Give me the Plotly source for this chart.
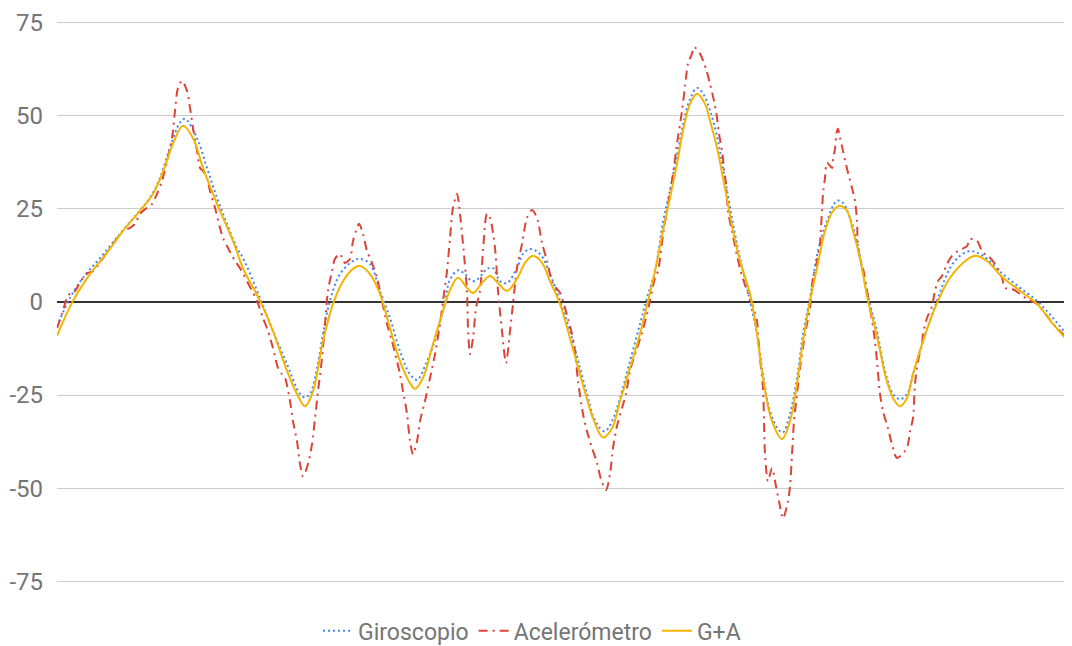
import plotly.graph_objects as go

# sample index (muestra) and values
t_gyro = [0, 13, 26, 43, 63, 80, 93, 103, 113, 123, 128, 140, 150, 160, 170, 180, 186, 203, 216, 230,
          243, 248, 253, 260, 266, 273, 283, 296, 303, 313, 323, 333, 343, 353, 360, 370, 380, 388,
          393, 401, 408, 415, 421, 430, 436, 443, 450, 460, 466, 473, 483, 493, 503, 513, 523, 530,
          536, 543, 548, 555, 563, 573, 583, 590, 598, 606, 613, 620, 626, 633, 640, 646, 653, 660,
          665, 670, 676, 683, 693, 700, 706, 713, 721, 726, 733, 740, 746, 753, 761, 770, 780, 786,
          793, 800, 806, 813, 820, 828, 836, 843, 850, 856, 866, 880, 893, 903, 913, 926, 946, 963,
          980, 996, 1015]
giroscopio = [-6.5, 1.1, 6.5, 11.8, 18.3, 23.7, 28, 33.3, 41.5, 48.2, 49.2, 44, 36, 28, 21, 14.5, 11.8,
              1.1, -7.8, -16.7, -24.7, -25.6, -24.7, -17.7, -8.6, 0.3, 7.5, 11, 11.6, 10.2, 3, -4.3,
              -13.2, -19.4, -20.9, -15.9, -8.6, 0.3, 6, 8.5, 7.5, 5.6, 6.2, 8.9, 9.1, 5.6, 5.1, 9.1,
              12.9, 14.2, 12.9, 7.5, 0.3, -7.8, -17.7, -24.7, -30.5, -33.9, -34.7, -32, -25.8, -15.9,
              -5.9, 1.1, 8.3, 21.5, 30, 39.5, 47.5, 54.5, 57.5, 56, 51.5, 44.5, 37.5, 30, 21, 11.8,
              0.3, -8.6, -19.4, -29.3, -34.1, -35, -30, -20.4, -8.6, 1.1, 13.7, 21.8, 27.2, 26.6,
              22.6, 16.4, 7.5, -0.5, -7.8, -18.5, -24.7, -26.1, -24.7, -19.4, -10.5, 0.3, 9.1, 12.4,
              13.7, 12.4, 7.5, 3.8, 0.3, -4.3, -10.5]

t_acc = [0, 5, 10, 13, 16, 20, 26, 31, 36, 46, 56, 66, 73, 78, 83, 90, 95, 100, 105, 110, 115, 118,
         121, 125, 130, 133, 136, 140, 143, 146, 150, 153, 158, 163, 166, 171, 178, 183, 195, 200,
         206, 211, 216, 221, 225, 228, 233, 236, 240, 243, 246, 251, 255, 258, 261, 265, 268, 271,
         275, 278, 283, 288, 293, 296, 300, 302, 306, 310, 315, 320, 325, 330, 335, 340, 343, 346,
         350, 353, 356, 360, 363, 368, 373, 378, 383, 386, 390, 393, 396, 400, 403, 406, 410, 411,
         413, 416, 419, 423, 426, 430, 433, 438, 441, 445, 449, 453, 456, 460, 465, 470, 475, 480,
         485, 490, 496, 503, 511, 515, 518, 521, 526, 530, 535, 540, 544, 549, 553, 556, 560, 565,
         569, 573, 580, 585, 590, 593, 598, 601, 606, 616, 620, 625, 629, 631, 635, 637, 643, 649,
         653, 657, 660, 662, 665, 667, 669, 671, 675, 683, 690, 693, 700, 701, 703, 706, 707, 708,
         711, 715, 719, 722, 726, 731, 733, 735, 737, 740, 743, 748, 753, 756, 760, 763, 764, 765,
         766, 768, 770, 775, 776, 778, 780, 781, 783, 786, 790, 795, 798, 800, 801, 803, 806, 810,
         813, 818, 820, 823, 826, 831, 835, 840, 848, 851, 853, 856, 858, 861, 865, 866, 870, 875,
         878, 881, 885, 890, 895, 901, 910, 913, 920, 926, 931, 938, 945, 948, 955, 963, 970, 980,
         990, 1000, 1015]
acelerometro = [-7, -3.2, 1.1, 2.2, 2.2, 3.8, 6.5, 7.8, 8.3, 11.8, 15.6, 19.1, 19.9, 21, 23.7, 25.3,
                26.3, 29, 32.5, 37.9, 44, 51.3, 57.5, 59.4, 56.7, 52.2, 46.8, 40.6, 36, 35.2, 33.3,
                29.8, 25.3, 19.9, 17.2, 14.5, 11, 9.1, 3, 0.3, -4.3, -7.8, -12.4, -17.7, -19.4,
                -20.4, -26.6, -32, -37.4, -43.5, -46.8, -43.5, -38.2, -31.2, -24, -15.1, -5.9, 3,
                8.3, 11.6, 12.9, 10.5, 11.6, 16.4, 19.9, 21, 18.3, 13.7, 10.5, 6.5, 0.3, -5.9,
                -10.5, -15.9, -19.4, -24, -30, -37.4, -40.9, -37.4, -32, -26.6, -20.4, -14, -5.9,
                0.3, 8.3, 17.2, 25.3, 29, 23.7, 15.6, 3, -7, -14, -9.7, -1.6, 3, 13.7, 23.7, 22.6,
                14.5, 3, -7.8, -16.4, -7.8, -0.5, 9.1, 15.6, 22.6, 24.7, 22.6, 15.9, 11, 4.8, 2.5,
                -4.6, -8.6, -13.2, -21.2, -30, -34.7, -39.2, -43.2, -47.6, -50.5, -46.2, -39.2,
                -33.3, -28.5, -24.7, -18.5, -12.4, -8.3, -3.2, 0.3, 6.5, 8.3, 18, 34.4, 42.5, 51.3,
                60.2, 64, 66.7, 68.5, 66.7, 62.6, 58.6, 54, 49.5, 45.2, 40.6, 36, 31.7, 24.5, 19,
                9, 3, 1.1, -5.1, -8.6, -15.1, -23.1, -32, -40.9, -48.1, -44.6, -49.5, -53.5, -58.1,
                -53.5, -49.5, -40.9, -32, -24.7, -17.7, -8.6, -1.6, 6.5, 11, 15.6, 19.9, 24.5, 29,
                33.3, 37.4, 36, 38.4, 41.1, 46, 46.5, 44.1, 40.6, 35.8, 30.6, 27.2, 21.8, 14.5,
                11.8, 9.1, 3, -1.6, -10.5, -15.9, -24.7, -29.3, -33.9, -38.2, -41.9, -40, -38.2,
                -34.7, -31.2, -22, -15.9, -11.3, -8.6, -4.3, -1.1, 3, 5.6, 7, 10.2, 12.4, 13.7, 15,
                16.9, 16.4, 13.2, 12.4, 10.2, 6.5, 3.8, 3.5, 2.2, 0.8, -0.5, -3.8, -7, -11]

t_ga = [0, 16, 33, 50, 66, 83, 96, 106, 116, 126, 136, 146, 156, 166, 176, 186, 203, 216, 230, 240,
        248, 256, 266, 276, 286, 296, 303, 313, 323, 333, 343, 353, 358, 366, 376, 386, 393, 401,
        410, 416, 425, 433, 441, 450, 460, 468, 476, 485, 493, 503, 513, 523, 530, 536, 546, 555,
        563, 573, 583, 591, 598, 606, 613, 620, 626, 633, 640, 648, 653, 660, 666, 671, 676, 683,
        693, 700, 706, 715, 725, 733, 740, 746, 753, 760, 768, 776, 783, 790, 796, 803, 811, 818,
        823, 828, 836, 843, 850, 856, 866, 880, 893, 906, 918, 930, 946, 963, 980, 996, 1015]
g_mas_a = [-9.1, 0.3, 7.5, 13.2, 19.1, 24.5, 29, 35, 42.5, 47.3, 44, 36, 29, 22.6, 16.4, 9.1, 0.3,
           -7.8, -18.5, -24.7, -28.0, -24, -10.5, -0.5, 5.6, 8.9, 9.7, 7.5, 2.2, -7, -15.9, -21.8,
           -23.3, -20.4, -11.3, -2.4, 3.2, 6.5, 3.8, 2.4, 5.1, 7.0, 5.1, 3.0, 6.2, 10.5, 12.4,
           10.5, 5.6, -0.5, -9.7, -19.4, -26, -31.2, -36.4, -33.9, -26.6, -17.7, -8.6, 0.3, 8.3,
           19.1, 28, 37.1, 46, 53.2, 55.9, 53.2, 48.7, 41.4, 33.3, 26.3, 19.1, 11, 2.2, -8.6,
           -20.4, -32, -36.8, -32, -22, -10.5, 0.3, 9.1, 19.1, 24.5, 25.8, 24.5, 19.1, 11.8, 0.3,
           -7, -13, -19.4, -25.8, -28, -25.8, -19.4, -10.5, -0.3, 6.5, 10.5, 12.4, 11, 6.5, 3,
           -0.5, -5.9, -11.8]

y_ticks = [-75, -50, -25, 0, 25, 50, 75]

fig = go.Figure()
fig.add_trace(go.Scatter(x=t_gyro, y=giroscopio, name="Giroscopio", mode="lines",
                         line=dict(color="#4285F4", width=2, dash="2px,3px", shape="spline", smoothing=1)))
fig.add_trace(go.Scatter(x=t_acc, y=acelerometro, name="Acelerómetro", mode="lines",
                         line=dict(color="#DB4437", width=2, dash="9px,5px,2px,5px", shape="spline", smoothing=0.8)))
fig.add_trace(go.Scatter(x=t_ga, y=g_mas_a, name="G+A", mode="lines",
                         line=dict(color="#F4B400", width=2, shape="spline", smoothing=1)))

fig.update_layout(
    width=1064, height=638,
    margin=dict(l=49, r=0, t=11, b=61, autoexpand=False),
    paper_bgcolor="white", plot_bgcolor="white",
    font=dict(family="Roboto, Arial, sans-serif", size=23, color="#757575"),
    showlegend=True,
    legend=dict(orientation="h", x=0.468, xanchor="center", y=-0.043, yanchor="top",
                font=dict(size=23, color="#757575"), itemwidth=30),
    xaxis=dict(range=[0, 1015], showgrid=False, showticklabels=False, zeroline=False,
               showline=False, ticks="", automargin=False),
    yaxis=dict(range=[-76, 76], tickvals=y_ticks, ticktext=[str(v) for v in y_ticks],
               showgrid=True, gridcolor="#cccccc", gridwidth=1,
               zeroline=True, zerolinecolor="#333333", zerolinewidth=2,
               showline=False, ticks="", ticklabelstandoff=13, automargin=False,
               tickfont=dict(size=24, color="#757575")),
)

fig.write_html("out.html")
